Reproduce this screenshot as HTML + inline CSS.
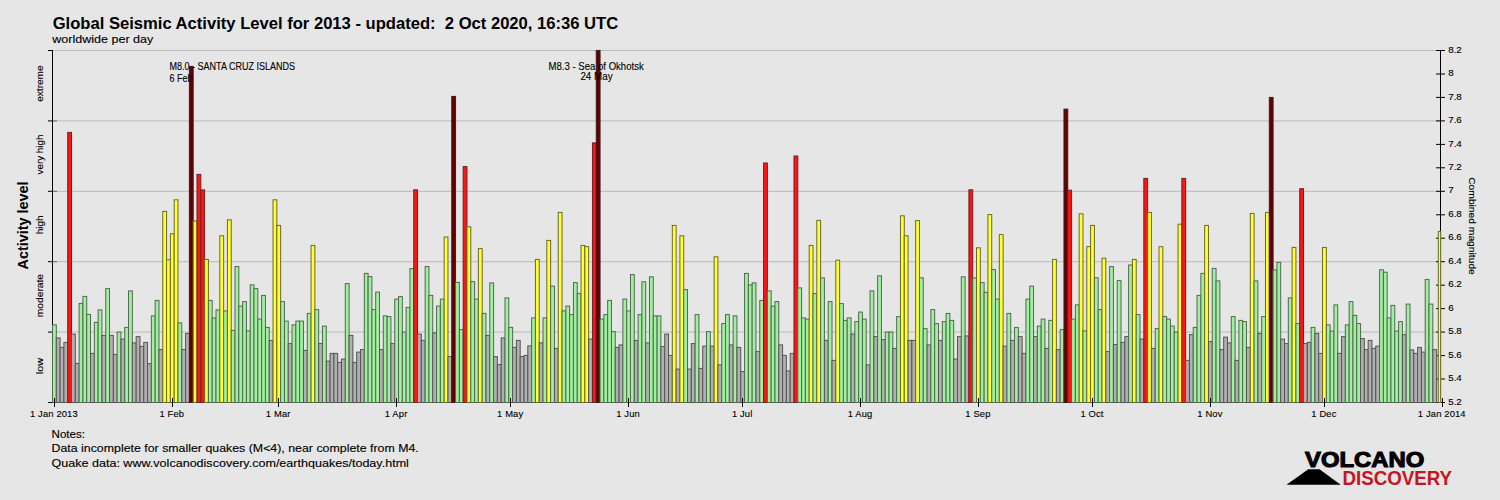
<!DOCTYPE html><html><head><meta charset="utf-8"><title>Global Seismic Activity Level 2013</title><style>
html,body{margin:0;padding:0;background:#e6e6e6;}body{width:1500px;height:500px;overflow:hidden;}svg{display:block;}
text{font-family:"Liberation Sans",Arial,sans-serif;fill:#000;}.t{stroke:#000;stroke-width:0.12px;}
</style></head><body>
<svg width="1500" height="500" viewBox="0 0 1500 500">
<rect x="0" y="0" width="1500" height="500" fill="#e6e6e6"/>
<line x1="53" y1="50.5" x2="1440" y2="50.5" stroke="#bababa" stroke-width="1"/>
<line x1="53" y1="120.9" x2="1440" y2="120.9" stroke="#bababa" stroke-width="1"/>
<line x1="53" y1="191.3" x2="1440" y2="191.3" stroke="#bababa" stroke-width="1"/>
<line x1="53" y1="261.7" x2="1440" y2="261.7" stroke="#bababa" stroke-width="1"/>
<line x1="53" y1="332.1" x2="1440" y2="332.1" stroke="#bababa" stroke-width="1"/>
<line x1="52.5" y1="50" x2="52.5" y2="403" stroke="#000" stroke-width="1"/>
<line x1="1440.5" y1="50" x2="1440.5" y2="403" stroke="#000" stroke-width="1"/>
<line x1="1436" y1="402.5" x2="1445" y2="402.5" stroke="#000" stroke-width="1"/>
<text class="t" x="1448.2" y="404.6" font-size="9.8">5.2</text>
<line x1="1436" y1="379.0" x2="1445" y2="379.0" stroke="#000" stroke-width="1"/>
<text class="t" x="1448.2" y="381.1" font-size="9.8">5.4</text>
<line x1="1436" y1="355.6" x2="1445" y2="355.6" stroke="#000" stroke-width="1"/>
<text class="t" x="1448.2" y="357.7" font-size="9.8">5.6</text>
<line x1="1436" y1="332.1" x2="1445" y2="332.1" stroke="#000" stroke-width="1"/>
<text class="t" x="1448.2" y="334.2" font-size="9.8">5.8</text>
<line x1="1436" y1="308.6" x2="1445" y2="308.6" stroke="#000" stroke-width="1"/>
<text class="t" x="1448.2" y="310.7" font-size="9.8">6</text>
<line x1="1436" y1="285.2" x2="1445" y2="285.2" stroke="#000" stroke-width="1"/>
<text class="t" x="1448.2" y="287.3" font-size="9.8">6.2</text>
<line x1="1436" y1="261.7" x2="1445" y2="261.7" stroke="#000" stroke-width="1"/>
<text class="t" x="1448.2" y="263.8" font-size="9.8">6.4</text>
<line x1="1436" y1="238.2" x2="1445" y2="238.2" stroke="#000" stroke-width="1"/>
<text class="t" x="1448.2" y="240.3" font-size="9.8">6.6</text>
<line x1="1436" y1="214.8" x2="1445" y2="214.8" stroke="#000" stroke-width="1"/>
<text class="t" x="1448.2" y="216.9" font-size="9.8">6.8</text>
<line x1="1436" y1="191.3" x2="1445" y2="191.3" stroke="#000" stroke-width="1"/>
<text class="t" x="1448.2" y="193.4" font-size="9.8">7</text>
<line x1="1436" y1="167.8" x2="1445" y2="167.8" stroke="#000" stroke-width="1"/>
<text class="t" x="1448.2" y="169.9" font-size="9.8">7.2</text>
<line x1="1436" y1="144.4" x2="1445" y2="144.4" stroke="#000" stroke-width="1"/>
<text class="t" x="1448.2" y="146.5" font-size="9.8">7.4</text>
<line x1="1436" y1="120.9" x2="1445" y2="120.9" stroke="#000" stroke-width="1"/>
<text class="t" x="1448.2" y="123.0" font-size="9.8">7.6</text>
<line x1="1436" y1="97.4" x2="1445" y2="97.4" stroke="#000" stroke-width="1"/>
<text class="t" x="1448.2" y="99.5" font-size="9.8">7.8</text>
<line x1="1436" y1="74.0" x2="1445" y2="74.0" stroke="#000" stroke-width="1"/>
<text class="t" x="1448.2" y="76.1" font-size="9.8">8</text>
<line x1="1436" y1="50.5" x2="1445" y2="50.5" stroke="#000" stroke-width="1"/>
<text class="t" x="1448.2" y="52.6" font-size="9.8">8.2</text>
<line x1="48" y1="50.5" x2="52.5" y2="50.5" stroke="#000" stroke-width="1"/>
<line x1="48" y1="120.9" x2="52.5" y2="120.9" stroke="#000" stroke-width="1"/>
<line x1="53" y1="120.9" x2="57" y2="120.9" stroke="#666" stroke-width="1"/>
<line x1="48" y1="191.3" x2="52.5" y2="191.3" stroke="#000" stroke-width="1"/>
<line x1="53" y1="191.3" x2="57" y2="191.3" stroke="#666" stroke-width="1"/>
<line x1="48" y1="261.7" x2="52.5" y2="261.7" stroke="#000" stroke-width="1"/>
<line x1="53" y1="261.7" x2="57" y2="261.7" stroke="#666" stroke-width="1"/>
<line x1="48" y1="332.1" x2="52.5" y2="332.1" stroke="#000" stroke-width="1"/>
<line x1="53" y1="332.1" x2="57" y2="332.1" stroke="#666" stroke-width="1"/>
<line x1="48" y1="402.5" x2="52.5" y2="402.5" stroke="#000" stroke-width="1"/>
<g stroke-width="1">
<rect x="52.50" y="324.9" width="3.80" height="77.6" fill="#a0f0a0" stroke="#526852"/>
<rect x="56.30" y="337.9" width="3.80" height="64.6" fill="#b0b0b0" stroke="#555555"/>
<rect x="60.11" y="347.4" width="3.80" height="55.1" fill="#b0b0b0" stroke="#555555"/>
<rect x="63.91" y="342.4" width="3.80" height="60.1" fill="#b0b0b0" stroke="#555555"/>
<rect x="67.71" y="132.4" width="3.80" height="270.1" fill="#ff1414" stroke="#6e2222"/>
<rect x="71.51" y="334.1" width="3.80" height="68.4" fill="#b0b0b0" stroke="#555555"/>
<rect x="75.31" y="363.4" width="3.80" height="39.1" fill="#b0b0b0" stroke="#555555"/>
<rect x="79.12" y="303.4" width="3.80" height="99.1" fill="#a0f0a0" stroke="#526852"/>
<rect x="82.92" y="296.4" width="3.80" height="106.1" fill="#a0f0a0" stroke="#526852"/>
<rect x="86.72" y="314.4" width="3.80" height="88.1" fill="#a0f0a0" stroke="#526852"/>
<rect x="90.53" y="353.4" width="3.80" height="49.1" fill="#b0b0b0" stroke="#555555"/>
<rect x="94.33" y="322.4" width="3.80" height="80.1" fill="#a0f0a0" stroke="#526852"/>
<rect x="98.13" y="309.9" width="3.80" height="92.6" fill="#a0f0a0" stroke="#526852"/>
<rect x="101.93" y="335.4" width="3.80" height="67.1" fill="#b0b0b0" stroke="#555555"/>
<rect x="105.73" y="288.6" width="3.80" height="113.9" fill="#a0f0a0" stroke="#526852"/>
<rect x="109.54" y="335.4" width="3.80" height="67.1" fill="#b0b0b0" stroke="#555555"/>
<rect x="113.34" y="354.4" width="3.80" height="48.1" fill="#b0b0b0" stroke="#555555"/>
<rect x="117.14" y="332.1" width="3.80" height="70.4" fill="#a0f0a0" stroke="#526852"/>
<rect x="120.95" y="339.1" width="3.80" height="63.4" fill="#b0b0b0" stroke="#555555"/>
<rect x="124.75" y="327.4" width="3.80" height="75.1" fill="#a0f0a0" stroke="#526852"/>
<rect x="128.55" y="290.9" width="3.80" height="111.6" fill="#a0f0a0" stroke="#526852"/>
<rect x="132.35" y="342.9" width="3.80" height="59.6" fill="#b0b0b0" stroke="#555555"/>
<rect x="136.16" y="336.6" width="3.80" height="65.9" fill="#b0b0b0" stroke="#555555"/>
<rect x="139.96" y="346.4" width="3.80" height="56.1" fill="#b0b0b0" stroke="#555555"/>
<rect x="143.76" y="342.4" width="3.80" height="60.1" fill="#b0b0b0" stroke="#555555"/>
<rect x="147.56" y="363.6" width="3.80" height="38.9" fill="#b0b0b0" stroke="#555555"/>
<rect x="151.37" y="315.9" width="3.80" height="86.6" fill="#a0f0a0" stroke="#526852"/>
<rect x="155.17" y="300.4" width="3.80" height="102.1" fill="#a0f0a0" stroke="#526852"/>
<rect x="158.97" y="349.6" width="3.80" height="52.9" fill="#b0b0b0" stroke="#555555"/>
<rect x="162.77" y="211.4" width="3.80" height="191.1" fill="#ffff33" stroke="#69692c"/>
<rect x="166.57" y="259.8" width="3.80" height="142.7" fill="#ffff33" stroke="#69692c"/>
<rect x="170.38" y="233.8" width="3.80" height="168.7" fill="#ffff33" stroke="#69692c"/>
<rect x="174.18" y="199.8" width="3.80" height="202.7" fill="#ffff33" stroke="#69692c"/>
<rect x="177.98" y="322.9" width="3.80" height="79.6" fill="#a0f0a0" stroke="#526852"/>
<rect x="181.78" y="349.6" width="3.80" height="52.9" fill="#b0b0b0" stroke="#555555"/>
<rect x="185.59" y="333.4" width="3.80" height="69.1" fill="#b0b0b0" stroke="#555555"/>
<rect x="189.39" y="66.4" width="3.80" height="336.1" fill="#640000" stroke="#3c1e1e"/>
<rect x="193.19" y="221.0" width="3.80" height="181.5" fill="#ffff33" stroke="#69692c"/>
<rect x="197.00" y="174.4" width="3.80" height="228.1" fill="#ff1414" stroke="#6e2222"/>
<rect x="200.80" y="189.9" width="3.80" height="212.6" fill="#ff1414" stroke="#6e2222"/>
<rect x="204.60" y="259.4" width="3.80" height="143.1" fill="#ffff33" stroke="#69692c"/>
<rect x="208.40" y="300.4" width="3.80" height="102.1" fill="#a0f0a0" stroke="#526852"/>
<rect x="212.21" y="317.9" width="3.80" height="84.6" fill="#a0f0a0" stroke="#526852"/>
<rect x="216.01" y="309.9" width="3.80" height="92.6" fill="#a0f0a0" stroke="#526852"/>
<rect x="219.81" y="235.8" width="3.80" height="166.7" fill="#ffff33" stroke="#69692c"/>
<rect x="223.61" y="310.9" width="3.80" height="91.6" fill="#a0f0a0" stroke="#526852"/>
<rect x="227.42" y="219.8" width="3.80" height="182.7" fill="#ffff33" stroke="#69692c"/>
<rect x="231.22" y="330.4" width="3.80" height="72.1" fill="#a0f0a0" stroke="#526852"/>
<rect x="235.02" y="266.6" width="3.80" height="135.9" fill="#a0f0a0" stroke="#526852"/>
<rect x="238.82" y="306.1" width="3.80" height="96.4" fill="#a0f0a0" stroke="#526852"/>
<rect x="242.62" y="301.6" width="3.80" height="100.9" fill="#a0f0a0" stroke="#526852"/>
<rect x="246.43" y="330.9" width="3.80" height="71.6" fill="#a0f0a0" stroke="#526852"/>
<rect x="250.23" y="284.9" width="3.80" height="117.6" fill="#a0f0a0" stroke="#526852"/>
<rect x="254.03" y="288.6" width="3.80" height="113.9" fill="#a0f0a0" stroke="#526852"/>
<rect x="257.84" y="319.1" width="3.80" height="83.4" fill="#a0f0a0" stroke="#526852"/>
<rect x="261.64" y="295.4" width="3.80" height="107.1" fill="#a0f0a0" stroke="#526852"/>
<rect x="265.44" y="327.4" width="3.80" height="75.1" fill="#a0f0a0" stroke="#526852"/>
<rect x="269.24" y="340.4" width="3.80" height="62.1" fill="#b0b0b0" stroke="#555555"/>
<rect x="273.05" y="199.8" width="3.80" height="202.7" fill="#ffff33" stroke="#69692c"/>
<rect x="276.85" y="225.4" width="3.80" height="177.1" fill="#ffff33" stroke="#69692c"/>
<rect x="280.65" y="301.6" width="3.80" height="100.9" fill="#a0f0a0" stroke="#526852"/>
<rect x="284.45" y="321.1" width="3.80" height="81.4" fill="#a0f0a0" stroke="#526852"/>
<rect x="288.25" y="343.6" width="3.80" height="58.9" fill="#b0b0b0" stroke="#555555"/>
<rect x="292.06" y="324.9" width="3.80" height="77.6" fill="#a0f0a0" stroke="#526852"/>
<rect x="295.86" y="321.1" width="3.80" height="81.4" fill="#a0f0a0" stroke="#526852"/>
<rect x="299.66" y="321.1" width="3.80" height="81.4" fill="#a0f0a0" stroke="#526852"/>
<rect x="303.47" y="350.4" width="3.80" height="52.1" fill="#b0b0b0" stroke="#555555"/>
<rect x="307.27" y="313.4" width="3.80" height="89.1" fill="#a0f0a0" stroke="#526852"/>
<rect x="311.07" y="245.4" width="3.80" height="157.1" fill="#ffff33" stroke="#69692c"/>
<rect x="314.87" y="309.6" width="3.80" height="92.9" fill="#a0f0a0" stroke="#526852"/>
<rect x="318.68" y="343.6" width="3.80" height="58.9" fill="#b0b0b0" stroke="#555555"/>
<rect x="322.48" y="326.1" width="3.80" height="76.4" fill="#a0f0a0" stroke="#526852"/>
<rect x="326.28" y="361.1" width="3.80" height="41.4" fill="#b0b0b0" stroke="#555555"/>
<rect x="330.08" y="353.4" width="3.80" height="49.1" fill="#b0b0b0" stroke="#555555"/>
<rect x="333.88" y="353.4" width="3.80" height="49.1" fill="#b0b0b0" stroke="#555555"/>
<rect x="337.69" y="362.4" width="3.80" height="40.1" fill="#b0b0b0" stroke="#555555"/>
<rect x="341.49" y="359.1" width="3.80" height="43.4" fill="#b0b0b0" stroke="#555555"/>
<rect x="345.29" y="283.6" width="3.80" height="118.9" fill="#a0f0a0" stroke="#526852"/>
<rect x="349.10" y="335.4" width="3.80" height="67.1" fill="#b0b0b0" stroke="#555555"/>
<rect x="352.90" y="362.4" width="3.80" height="40.1" fill="#b0b0b0" stroke="#555555"/>
<rect x="356.70" y="352.1" width="3.80" height="50.4" fill="#b0b0b0" stroke="#555555"/>
<rect x="360.50" y="349.6" width="3.80" height="52.9" fill="#b0b0b0" stroke="#555555"/>
<rect x="364.31" y="273.4" width="3.80" height="129.1" fill="#a0f0a0" stroke="#526852"/>
<rect x="368.11" y="276.6" width="3.80" height="125.9" fill="#a0f0a0" stroke="#526852"/>
<rect x="371.91" y="309.6" width="3.80" height="92.9" fill="#a0f0a0" stroke="#526852"/>
<rect x="375.71" y="292.1" width="3.80" height="110.4" fill="#a0f0a0" stroke="#526852"/>
<rect x="379.52" y="349.6" width="3.80" height="52.9" fill="#b0b0b0" stroke="#555555"/>
<rect x="383.32" y="315.9" width="3.80" height="86.6" fill="#a0f0a0" stroke="#526852"/>
<rect x="387.12" y="316.6" width="3.80" height="85.9" fill="#a0f0a0" stroke="#526852"/>
<rect x="390.92" y="343.6" width="3.80" height="58.9" fill="#b0b0b0" stroke="#555555"/>
<rect x="394.73" y="299.1" width="3.80" height="103.4" fill="#a0f0a0" stroke="#526852"/>
<rect x="398.53" y="296.6" width="3.80" height="105.9" fill="#a0f0a0" stroke="#526852"/>
<rect x="402.33" y="332.1" width="3.80" height="70.4" fill="#a0f0a0" stroke="#526852"/>
<rect x="406.13" y="307.4" width="3.80" height="95.1" fill="#a0f0a0" stroke="#526852"/>
<rect x="409.94" y="268.6" width="3.80" height="133.9" fill="#a0f0a0" stroke="#526852"/>
<rect x="413.74" y="189.8" width="3.80" height="212.7" fill="#ff1414" stroke="#6e2222"/>
<rect x="417.54" y="334.1" width="3.80" height="68.4" fill="#b0b0b0" stroke="#555555"/>
<rect x="421.34" y="340.4" width="3.80" height="62.1" fill="#b0b0b0" stroke="#555555"/>
<rect x="425.15" y="266.6" width="3.80" height="135.9" fill="#a0f0a0" stroke="#526852"/>
<rect x="428.95" y="295.4" width="3.80" height="107.1" fill="#a0f0a0" stroke="#526852"/>
<rect x="432.75" y="332.9" width="3.80" height="69.6" fill="#b0b0b0" stroke="#555555"/>
<rect x="436.55" y="306.1" width="3.80" height="96.4" fill="#a0f0a0" stroke="#526852"/>
<rect x="440.36" y="299.1" width="3.80" height="103.4" fill="#a0f0a0" stroke="#526852"/>
<rect x="444.16" y="237.0" width="3.80" height="165.5" fill="#ffff33" stroke="#69692c"/>
<rect x="447.96" y="356.6" width="3.80" height="45.9" fill="#b0b0b0" stroke="#555555"/>
<rect x="451.76" y="96.4" width="3.80" height="306.1" fill="#640000" stroke="#3c1e1e"/>
<rect x="455.56" y="282.4" width="3.80" height="120.1" fill="#a0f0a0" stroke="#526852"/>
<rect x="459.37" y="329.6" width="3.80" height="72.9" fill="#a0f0a0" stroke="#526852"/>
<rect x="463.17" y="166.6" width="3.80" height="235.9" fill="#ff1414" stroke="#6e2222"/>
<rect x="466.97" y="226.8" width="3.80" height="175.7" fill="#ffff33" stroke="#69692c"/>
<rect x="470.78" y="281.6" width="3.80" height="120.9" fill="#a0f0a0" stroke="#526852"/>
<rect x="474.58" y="299.1" width="3.80" height="103.4" fill="#a0f0a0" stroke="#526852"/>
<rect x="478.38" y="248.6" width="3.80" height="153.9" fill="#ffff33" stroke="#69692c"/>
<rect x="482.18" y="313.4" width="3.80" height="89.1" fill="#a0f0a0" stroke="#526852"/>
<rect x="485.99" y="335.4" width="3.80" height="67.1" fill="#b0b0b0" stroke="#555555"/>
<rect x="489.79" y="282.9" width="3.80" height="119.6" fill="#a0f0a0" stroke="#526852"/>
<rect x="493.59" y="356.6" width="3.80" height="45.9" fill="#b0b0b0" stroke="#555555"/>
<rect x="497.39" y="364.6" width="3.80" height="37.9" fill="#b0b0b0" stroke="#555555"/>
<rect x="501.20" y="337.9" width="3.80" height="64.6" fill="#b0b0b0" stroke="#555555"/>
<rect x="505.00" y="297.9" width="3.80" height="104.6" fill="#a0f0a0" stroke="#526852"/>
<rect x="508.80" y="327.4" width="3.80" height="75.1" fill="#a0f0a0" stroke="#526852"/>
<rect x="512.60" y="347.4" width="3.80" height="55.1" fill="#b0b0b0" stroke="#555555"/>
<rect x="516.40" y="340.4" width="3.80" height="62.1" fill="#b0b0b0" stroke="#555555"/>
<rect x="520.21" y="356.6" width="3.80" height="45.9" fill="#b0b0b0" stroke="#555555"/>
<rect x="524.01" y="355.4" width="3.80" height="47.1" fill="#b0b0b0" stroke="#555555"/>
<rect x="527.81" y="345.9" width="3.80" height="56.6" fill="#b0b0b0" stroke="#555555"/>
<rect x="531.62" y="317.9" width="3.80" height="84.6" fill="#a0f0a0" stroke="#526852"/>
<rect x="535.42" y="259.4" width="3.80" height="143.1" fill="#ffff33" stroke="#69692c"/>
<rect x="539.22" y="342.9" width="3.80" height="59.6" fill="#b0b0b0" stroke="#555555"/>
<rect x="543.02" y="317.9" width="3.80" height="84.6" fill="#a0f0a0" stroke="#526852"/>
<rect x="546.83" y="240.4" width="3.80" height="162.1" fill="#ffff33" stroke="#69692c"/>
<rect x="550.63" y="286.1" width="3.80" height="116.4" fill="#a0f0a0" stroke="#526852"/>
<rect x="554.43" y="348.4" width="3.80" height="54.1" fill="#b0b0b0" stroke="#555555"/>
<rect x="558.23" y="212.4" width="3.80" height="190.1" fill="#ffff33" stroke="#69692c"/>
<rect x="562.04" y="310.9" width="3.80" height="91.6" fill="#a0f0a0" stroke="#526852"/>
<rect x="565.84" y="306.1" width="3.80" height="96.4" fill="#a0f0a0" stroke="#526852"/>
<rect x="569.64" y="314.6" width="3.80" height="87.9" fill="#a0f0a0" stroke="#526852"/>
<rect x="573.44" y="282.6" width="3.80" height="119.9" fill="#a0f0a0" stroke="#526852"/>
<rect x="577.25" y="293.6" width="3.80" height="108.9" fill="#a0f0a0" stroke="#526852"/>
<rect x="581.05" y="245.4" width="3.80" height="157.1" fill="#ffff33" stroke="#69692c"/>
<rect x="584.85" y="246.6" width="3.80" height="155.9" fill="#ffff33" stroke="#69692c"/>
<rect x="588.65" y="339.1" width="3.80" height="63.4" fill="#b0b0b0" stroke="#555555"/>
<rect x="592.46" y="142.9" width="3.80" height="259.6" fill="#ff1414" stroke="#6e2222"/>
<rect x="596.26" y="50.4" width="3.80" height="352.1" fill="#640000" stroke="#3c1e1e"/>
<rect x="600.06" y="319.1" width="3.80" height="83.4" fill="#a0f0a0" stroke="#526852"/>
<rect x="603.86" y="314.6" width="3.80" height="87.9" fill="#a0f0a0" stroke="#526852"/>
<rect x="607.67" y="300.4" width="3.80" height="102.1" fill="#a0f0a0" stroke="#526852"/>
<rect x="611.47" y="331.6" width="3.80" height="70.9" fill="#a0f0a0" stroke="#526852"/>
<rect x="615.27" y="347.4" width="3.80" height="55.1" fill="#b0b0b0" stroke="#555555"/>
<rect x="619.07" y="344.9" width="3.80" height="57.6" fill="#b0b0b0" stroke="#555555"/>
<rect x="622.88" y="299.1" width="3.80" height="103.4" fill="#a0f0a0" stroke="#526852"/>
<rect x="626.68" y="310.9" width="3.80" height="91.6" fill="#a0f0a0" stroke="#526852"/>
<rect x="630.48" y="274.6" width="3.80" height="127.9" fill="#a0f0a0" stroke="#526852"/>
<rect x="634.28" y="340.4" width="3.80" height="62.1" fill="#b0b0b0" stroke="#555555"/>
<rect x="638.09" y="314.6" width="3.80" height="87.9" fill="#a0f0a0" stroke="#526852"/>
<rect x="641.89" y="281.8" width="3.80" height="120.7" fill="#a0f0a0" stroke="#526852"/>
<rect x="645.69" y="342.9" width="3.80" height="59.6" fill="#b0b0b0" stroke="#555555"/>
<rect x="649.49" y="276.8" width="3.80" height="125.7" fill="#a0f0a0" stroke="#526852"/>
<rect x="653.30" y="315.9" width="3.80" height="86.6" fill="#a0f0a0" stroke="#526852"/>
<rect x="657.10" y="315.9" width="3.80" height="86.6" fill="#a0f0a0" stroke="#526852"/>
<rect x="660.90" y="346.6" width="3.80" height="55.9" fill="#b0b0b0" stroke="#555555"/>
<rect x="664.70" y="334.1" width="3.80" height="68.4" fill="#b0b0b0" stroke="#555555"/>
<rect x="668.50" y="355.4" width="3.80" height="47.1" fill="#b0b0b0" stroke="#555555"/>
<rect x="672.31" y="225.4" width="3.80" height="177.1" fill="#ffff33" stroke="#69692c"/>
<rect x="676.11" y="369.1" width="3.80" height="33.4" fill="#b0b0b0" stroke="#555555"/>
<rect x="679.91" y="235.8" width="3.80" height="166.7" fill="#ffff33" stroke="#69692c"/>
<rect x="683.72" y="289.6" width="3.80" height="112.9" fill="#a0f0a0" stroke="#526852"/>
<rect x="687.52" y="369.1" width="3.80" height="33.4" fill="#b0b0b0" stroke="#555555"/>
<rect x="691.32" y="343.6" width="3.80" height="58.9" fill="#b0b0b0" stroke="#555555"/>
<rect x="695.12" y="314.6" width="3.80" height="87.9" fill="#a0f0a0" stroke="#526852"/>
<rect x="698.93" y="368.4" width="3.80" height="34.1" fill="#b0b0b0" stroke="#555555"/>
<rect x="702.73" y="346.1" width="3.80" height="56.4" fill="#b0b0b0" stroke="#555555"/>
<rect x="706.53" y="331.6" width="3.80" height="70.9" fill="#a0f0a0" stroke="#526852"/>
<rect x="710.33" y="346.1" width="3.80" height="56.4" fill="#b0b0b0" stroke="#555555"/>
<rect x="714.13" y="256.8" width="3.80" height="145.7" fill="#ffff33" stroke="#69692c"/>
<rect x="717.94" y="364.9" width="3.80" height="37.6" fill="#b0b0b0" stroke="#555555"/>
<rect x="721.74" y="323.6" width="3.80" height="78.9" fill="#a0f0a0" stroke="#526852"/>
<rect x="725.54" y="314.6" width="3.80" height="87.9" fill="#a0f0a0" stroke="#526852"/>
<rect x="729.35" y="344.9" width="3.80" height="57.6" fill="#b0b0b0" stroke="#555555"/>
<rect x="733.15" y="315.9" width="3.80" height="86.6" fill="#a0f0a0" stroke="#526852"/>
<rect x="736.95" y="347.4" width="3.80" height="55.1" fill="#b0b0b0" stroke="#555555"/>
<rect x="740.75" y="371.6" width="3.80" height="30.9" fill="#b0b0b0" stroke="#555555"/>
<rect x="744.56" y="273.4" width="3.80" height="129.1" fill="#a0f0a0" stroke="#526852"/>
<rect x="748.36" y="284.9" width="3.80" height="117.6" fill="#a0f0a0" stroke="#526852"/>
<rect x="752.16" y="282.9" width="3.80" height="119.6" fill="#a0f0a0" stroke="#526852"/>
<rect x="755.96" y="351.6" width="3.80" height="50.9" fill="#b0b0b0" stroke="#555555"/>
<rect x="759.76" y="300.4" width="3.80" height="102.1" fill="#a0f0a0" stroke="#526852"/>
<rect x="763.57" y="163.0" width="3.80" height="239.5" fill="#ff1414" stroke="#6e2222"/>
<rect x="767.37" y="290.9" width="3.80" height="111.6" fill="#a0f0a0" stroke="#526852"/>
<rect x="771.17" y="306.1" width="3.80" height="96.4" fill="#a0f0a0" stroke="#526852"/>
<rect x="774.98" y="301.6" width="3.80" height="100.9" fill="#a0f0a0" stroke="#526852"/>
<rect x="778.78" y="344.9" width="3.80" height="57.6" fill="#b0b0b0" stroke="#555555"/>
<rect x="782.58" y="355.4" width="3.80" height="47.1" fill="#b0b0b0" stroke="#555555"/>
<rect x="786.38" y="370.9" width="3.80" height="31.6" fill="#b0b0b0" stroke="#555555"/>
<rect x="790.19" y="353.4" width="3.80" height="49.1" fill="#b0b0b0" stroke="#555555"/>
<rect x="793.99" y="156.0" width="3.80" height="246.5" fill="#ff1414" stroke="#6e2222"/>
<rect x="797.79" y="287.9" width="3.80" height="114.6" fill="#a0f0a0" stroke="#526852"/>
<rect x="801.59" y="317.9" width="3.80" height="84.6" fill="#a0f0a0" stroke="#526852"/>
<rect x="805.40" y="319.1" width="3.80" height="83.4" fill="#a0f0a0" stroke="#526852"/>
<rect x="809.20" y="245.4" width="3.80" height="157.1" fill="#ffff33" stroke="#69692c"/>
<rect x="813.00" y="293.6" width="3.80" height="108.9" fill="#a0f0a0" stroke="#526852"/>
<rect x="816.80" y="220.4" width="3.80" height="182.1" fill="#ffff33" stroke="#69692c"/>
<rect x="820.61" y="277.9" width="3.80" height="124.6" fill="#a0f0a0" stroke="#526852"/>
<rect x="824.41" y="340.4" width="3.80" height="62.1" fill="#b0b0b0" stroke="#555555"/>
<rect x="828.21" y="301.6" width="3.80" height="100.9" fill="#a0f0a0" stroke="#526852"/>
<rect x="832.01" y="360.4" width="3.80" height="42.1" fill="#b0b0b0" stroke="#555555"/>
<rect x="835.82" y="260.2" width="3.80" height="142.3" fill="#ffff33" stroke="#69692c"/>
<rect x="839.62" y="303.6" width="3.80" height="98.9" fill="#a0f0a0" stroke="#526852"/>
<rect x="843.42" y="320.4" width="3.80" height="82.1" fill="#a0f0a0" stroke="#526852"/>
<rect x="847.22" y="317.9" width="3.80" height="84.6" fill="#a0f0a0" stroke="#526852"/>
<rect x="851.03" y="334.1" width="3.80" height="68.4" fill="#b0b0b0" stroke="#555555"/>
<rect x="854.83" y="321.6" width="3.80" height="80.9" fill="#a0f0a0" stroke="#526852"/>
<rect x="858.63" y="312.1" width="3.80" height="90.4" fill="#a0f0a0" stroke="#526852"/>
<rect x="862.43" y="319.1" width="3.80" height="83.4" fill="#a0f0a0" stroke="#526852"/>
<rect x="866.24" y="364.9" width="3.80" height="37.6" fill="#b0b0b0" stroke="#555555"/>
<rect x="870.04" y="290.9" width="3.80" height="111.6" fill="#a0f0a0" stroke="#526852"/>
<rect x="873.84" y="336.6" width="3.80" height="65.9" fill="#b0b0b0" stroke="#555555"/>
<rect x="877.64" y="275.8" width="3.80" height="126.7" fill="#a0f0a0" stroke="#526852"/>
<rect x="881.45" y="339.6" width="3.80" height="62.9" fill="#b0b0b0" stroke="#555555"/>
<rect x="885.25" y="332.1" width="3.80" height="70.4" fill="#a0f0a0" stroke="#526852"/>
<rect x="889.05" y="332.1" width="3.80" height="70.4" fill="#a0f0a0" stroke="#526852"/>
<rect x="892.85" y="348.4" width="3.80" height="54.1" fill="#b0b0b0" stroke="#555555"/>
<rect x="896.66" y="316.6" width="3.80" height="85.9" fill="#a0f0a0" stroke="#526852"/>
<rect x="900.46" y="215.8" width="3.80" height="186.7" fill="#ffff33" stroke="#69692c"/>
<rect x="904.26" y="235.8" width="3.80" height="166.7" fill="#ffff33" stroke="#69692c"/>
<rect x="908.06" y="340.4" width="3.80" height="62.1" fill="#b0b0b0" stroke="#555555"/>
<rect x="911.87" y="340.4" width="3.80" height="62.1" fill="#b0b0b0" stroke="#555555"/>
<rect x="915.67" y="220.6" width="3.80" height="181.9" fill="#ffff33" stroke="#69692c"/>
<rect x="919.47" y="277.8" width="3.80" height="124.7" fill="#a0f0a0" stroke="#526852"/>
<rect x="923.27" y="328.6" width="3.80" height="73.9" fill="#a0f0a0" stroke="#526852"/>
<rect x="927.08" y="344.9" width="3.80" height="57.6" fill="#b0b0b0" stroke="#555555"/>
<rect x="930.88" y="309.6" width="3.80" height="92.9" fill="#a0f0a0" stroke="#526852"/>
<rect x="934.68" y="323.6" width="3.80" height="78.9" fill="#a0f0a0" stroke="#526852"/>
<rect x="938.48" y="340.4" width="3.80" height="62.1" fill="#b0b0b0" stroke="#555555"/>
<rect x="942.29" y="321.6" width="3.80" height="80.9" fill="#a0f0a0" stroke="#526852"/>
<rect x="946.09" y="313.4" width="3.80" height="89.1" fill="#a0f0a0" stroke="#526852"/>
<rect x="949.89" y="320.4" width="3.80" height="82.1" fill="#a0f0a0" stroke="#526852"/>
<rect x="953.69" y="359.1" width="3.80" height="43.4" fill="#b0b0b0" stroke="#555555"/>
<rect x="957.50" y="336.6" width="3.80" height="65.9" fill="#b0b0b0" stroke="#555555"/>
<rect x="961.30" y="276.8" width="3.80" height="125.7" fill="#a0f0a0" stroke="#526852"/>
<rect x="965.10" y="335.9" width="3.80" height="66.6" fill="#b0b0b0" stroke="#555555"/>
<rect x="968.90" y="189.8" width="3.80" height="212.7" fill="#ff1414" stroke="#6e2222"/>
<rect x="972.71" y="278.0" width="3.80" height="124.5" fill="#a0f0a0" stroke="#526852"/>
<rect x="976.51" y="247.8" width="3.80" height="154.7" fill="#ffff33" stroke="#69692c"/>
<rect x="980.31" y="282.6" width="3.80" height="119.9" fill="#a0f0a0" stroke="#526852"/>
<rect x="984.11" y="292.4" width="3.80" height="110.1" fill="#a0f0a0" stroke="#526852"/>
<rect x="987.92" y="214.6" width="3.80" height="187.9" fill="#ffff33" stroke="#69692c"/>
<rect x="991.72" y="269.6" width="3.80" height="132.9" fill="#a0f0a0" stroke="#526852"/>
<rect x="995.52" y="299.1" width="3.80" height="103.4" fill="#a0f0a0" stroke="#526852"/>
<rect x="999.32" y="234.6" width="3.80" height="167.9" fill="#ffff33" stroke="#69692c"/>
<rect x="1003.12" y="346.1" width="3.80" height="56.4" fill="#b0b0b0" stroke="#555555"/>
<rect x="1006.93" y="313.4" width="3.80" height="89.1" fill="#a0f0a0" stroke="#526852"/>
<rect x="1010.73" y="340.4" width="3.80" height="62.1" fill="#b0b0b0" stroke="#555555"/>
<rect x="1014.53" y="327.4" width="3.80" height="75.1" fill="#a0f0a0" stroke="#526852"/>
<rect x="1018.34" y="336.6" width="3.80" height="65.9" fill="#b0b0b0" stroke="#555555"/>
<rect x="1022.14" y="353.4" width="3.80" height="49.1" fill="#b0b0b0" stroke="#555555"/>
<rect x="1025.94" y="299.1" width="3.80" height="103.4" fill="#a0f0a0" stroke="#526852"/>
<rect x="1029.74" y="286.1" width="3.80" height="116.4" fill="#a0f0a0" stroke="#526852"/>
<rect x="1033.55" y="336.6" width="3.80" height="65.9" fill="#b0b0b0" stroke="#555555"/>
<rect x="1037.35" y="326.1" width="3.80" height="76.4" fill="#a0f0a0" stroke="#526852"/>
<rect x="1041.15" y="319.1" width="3.80" height="83.4" fill="#a0f0a0" stroke="#526852"/>
<rect x="1044.95" y="348.4" width="3.80" height="54.1" fill="#b0b0b0" stroke="#555555"/>
<rect x="1048.76" y="320.4" width="3.80" height="82.1" fill="#a0f0a0" stroke="#526852"/>
<rect x="1052.56" y="259.4" width="3.80" height="143.1" fill="#ffff33" stroke="#69692c"/>
<rect x="1056.36" y="349.6" width="3.80" height="52.9" fill="#b0b0b0" stroke="#555555"/>
<rect x="1060.16" y="329.6" width="3.80" height="72.9" fill="#a0f0a0" stroke="#526852"/>
<rect x="1063.97" y="109.1" width="3.80" height="293.4" fill="#640000" stroke="#3c1e1e"/>
<rect x="1067.77" y="190.2" width="3.80" height="212.3" fill="#ff1414" stroke="#6e2222"/>
<rect x="1071.57" y="319.1" width="3.80" height="83.4" fill="#a0f0a0" stroke="#526852"/>
<rect x="1075.37" y="304.9" width="3.80" height="97.6" fill="#a0f0a0" stroke="#526852"/>
<rect x="1079.17" y="213.8" width="3.80" height="188.7" fill="#ffff33" stroke="#69692c"/>
<rect x="1082.98" y="330.9" width="3.80" height="71.6" fill="#a0f0a0" stroke="#526852"/>
<rect x="1086.78" y="246.6" width="3.80" height="155.9" fill="#ffff33" stroke="#69692c"/>
<rect x="1090.58" y="225.4" width="3.80" height="177.1" fill="#ffff33" stroke="#69692c"/>
<rect x="1094.38" y="277.8" width="3.80" height="124.7" fill="#a0f0a0" stroke="#526852"/>
<rect x="1098.19" y="309.6" width="3.80" height="92.9" fill="#a0f0a0" stroke="#526852"/>
<rect x="1101.99" y="258.2" width="3.80" height="144.3" fill="#ffff33" stroke="#69692c"/>
<rect x="1105.79" y="351.6" width="3.80" height="50.9" fill="#b0b0b0" stroke="#555555"/>
<rect x="1109.60" y="266.6" width="3.80" height="135.9" fill="#a0f0a0" stroke="#526852"/>
<rect x="1113.40" y="344.6" width="3.80" height="57.9" fill="#b0b0b0" stroke="#555555"/>
<rect x="1117.20" y="280.6" width="3.80" height="121.9" fill="#a0f0a0" stroke="#526852"/>
<rect x="1121.00" y="342.4" width="3.80" height="60.1" fill="#b0b0b0" stroke="#555555"/>
<rect x="1124.81" y="336.6" width="3.80" height="65.9" fill="#b0b0b0" stroke="#555555"/>
<rect x="1128.61" y="265.0" width="3.80" height="137.5" fill="#a0f0a0" stroke="#526852"/>
<rect x="1132.41" y="259.4" width="3.80" height="143.1" fill="#ffff33" stroke="#69692c"/>
<rect x="1136.21" y="314.6" width="3.80" height="87.9" fill="#a0f0a0" stroke="#526852"/>
<rect x="1140.02" y="339.1" width="3.80" height="63.4" fill="#b0b0b0" stroke="#555555"/>
<rect x="1143.82" y="178.4" width="3.80" height="224.1" fill="#ff1414" stroke="#6e2222"/>
<rect x="1147.62" y="212.4" width="3.80" height="190.1" fill="#ffff33" stroke="#69692c"/>
<rect x="1151.42" y="348.4" width="3.80" height="54.1" fill="#b0b0b0" stroke="#555555"/>
<rect x="1155.23" y="328.6" width="3.80" height="73.9" fill="#a0f0a0" stroke="#526852"/>
<rect x="1159.03" y="246.7" width="3.80" height="155.8" fill="#ffff33" stroke="#69692c"/>
<rect x="1162.83" y="316.6" width="3.80" height="85.9" fill="#a0f0a0" stroke="#526852"/>
<rect x="1166.63" y="319.1" width="3.80" height="83.4" fill="#a0f0a0" stroke="#526852"/>
<rect x="1170.44" y="326.1" width="3.80" height="76.4" fill="#a0f0a0" stroke="#526852"/>
<rect x="1174.24" y="332.1" width="3.80" height="70.4" fill="#a0f0a0" stroke="#526852"/>
<rect x="1178.04" y="224.2" width="3.80" height="178.3" fill="#ffff33" stroke="#69692c"/>
<rect x="1181.84" y="178.4" width="3.80" height="224.1" fill="#ff1414" stroke="#6e2222"/>
<rect x="1185.64" y="360.4" width="3.80" height="42.1" fill="#b0b0b0" stroke="#555555"/>
<rect x="1189.45" y="334.6" width="3.80" height="67.9" fill="#b0b0b0" stroke="#555555"/>
<rect x="1193.25" y="327.4" width="3.80" height="75.1" fill="#a0f0a0" stroke="#526852"/>
<rect x="1197.05" y="295.4" width="3.80" height="107.1" fill="#a0f0a0" stroke="#526852"/>
<rect x="1200.86" y="273.4" width="3.80" height="129.1" fill="#a0f0a0" stroke="#526852"/>
<rect x="1204.66" y="225.4" width="3.80" height="177.1" fill="#ffff33" stroke="#69692c"/>
<rect x="1208.46" y="341.6" width="3.80" height="60.9" fill="#b0b0b0" stroke="#555555"/>
<rect x="1212.26" y="268.4" width="3.80" height="134.1" fill="#a0f0a0" stroke="#526852"/>
<rect x="1216.07" y="280.9" width="3.80" height="121.6" fill="#a0f0a0" stroke="#526852"/>
<rect x="1219.87" y="349.6" width="3.80" height="52.9" fill="#b0b0b0" stroke="#555555"/>
<rect x="1223.67" y="337.1" width="3.80" height="65.4" fill="#b0b0b0" stroke="#555555"/>
<rect x="1227.47" y="342.9" width="3.80" height="59.6" fill="#b0b0b0" stroke="#555555"/>
<rect x="1231.28" y="316.6" width="3.80" height="85.9" fill="#a0f0a0" stroke="#526852"/>
<rect x="1235.08" y="360.4" width="3.80" height="42.1" fill="#b0b0b0" stroke="#555555"/>
<rect x="1238.88" y="320.4" width="3.80" height="82.1" fill="#a0f0a0" stroke="#526852"/>
<rect x="1242.68" y="321.6" width="3.80" height="80.9" fill="#a0f0a0" stroke="#526852"/>
<rect x="1246.49" y="347.4" width="3.80" height="55.1" fill="#b0b0b0" stroke="#555555"/>
<rect x="1250.29" y="213.4" width="3.80" height="189.1" fill="#ffff33" stroke="#69692c"/>
<rect x="1254.09" y="280.9" width="3.80" height="121.6" fill="#a0f0a0" stroke="#526852"/>
<rect x="1257.89" y="333.4" width="3.80" height="69.1" fill="#b0b0b0" stroke="#555555"/>
<rect x="1261.70" y="316.6" width="3.80" height="85.9" fill="#a0f0a0" stroke="#526852"/>
<rect x="1265.50" y="212.4" width="3.80" height="190.1" fill="#ffff33" stroke="#69692c"/>
<rect x="1269.30" y="97.4" width="3.80" height="305.1" fill="#640000" stroke="#3c1e1e"/>
<rect x="1273.10" y="269.9" width="3.80" height="132.6" fill="#a0f0a0" stroke="#526852"/>
<rect x="1276.90" y="262.4" width="3.80" height="140.1" fill="#a0f0a0" stroke="#526852"/>
<rect x="1280.71" y="339.1" width="3.80" height="63.4" fill="#b0b0b0" stroke="#555555"/>
<rect x="1284.51" y="343.6" width="3.80" height="58.9" fill="#b0b0b0" stroke="#555555"/>
<rect x="1288.31" y="297.9" width="3.80" height="104.6" fill="#a0f0a0" stroke="#526852"/>
<rect x="1292.12" y="247.4" width="3.80" height="155.1" fill="#ffff33" stroke="#69692c"/>
<rect x="1295.92" y="323.6" width="3.80" height="78.9" fill="#a0f0a0" stroke="#526852"/>
<rect x="1299.72" y="188.7" width="3.80" height="213.8" fill="#ff1414" stroke="#6e2222"/>
<rect x="1303.52" y="343.6" width="3.80" height="58.9" fill="#b0b0b0" stroke="#555555"/>
<rect x="1307.33" y="342.4" width="3.80" height="60.1" fill="#b0b0b0" stroke="#555555"/>
<rect x="1311.13" y="327.4" width="3.80" height="75.1" fill="#a0f0a0" stroke="#526852"/>
<rect x="1314.93" y="333.4" width="3.80" height="69.1" fill="#b0b0b0" stroke="#555555"/>
<rect x="1318.73" y="353.4" width="3.80" height="49.1" fill="#b0b0b0" stroke="#555555"/>
<rect x="1322.54" y="247.4" width="3.80" height="155.1" fill="#ffff33" stroke="#69692c"/>
<rect x="1326.34" y="324.9" width="3.80" height="77.6" fill="#a0f0a0" stroke="#526852"/>
<rect x="1330.14" y="331.1" width="3.80" height="71.4" fill="#a0f0a0" stroke="#526852"/>
<rect x="1333.94" y="304.9" width="3.80" height="97.6" fill="#a0f0a0" stroke="#526852"/>
<rect x="1337.75" y="353.4" width="3.80" height="49.1" fill="#b0b0b0" stroke="#555555"/>
<rect x="1341.55" y="336.6" width="3.80" height="65.9" fill="#b0b0b0" stroke="#555555"/>
<rect x="1345.35" y="324.9" width="3.80" height="77.6" fill="#a0f0a0" stroke="#526852"/>
<rect x="1349.15" y="301.6" width="3.80" height="100.9" fill="#a0f0a0" stroke="#526852"/>
<rect x="1352.96" y="315.4" width="3.80" height="87.1" fill="#a0f0a0" stroke="#526852"/>
<rect x="1356.76" y="323.6" width="3.80" height="78.9" fill="#a0f0a0" stroke="#526852"/>
<rect x="1360.56" y="338.6" width="3.80" height="63.9" fill="#b0b0b0" stroke="#555555"/>
<rect x="1364.36" y="349.6" width="3.80" height="52.9" fill="#b0b0b0" stroke="#555555"/>
<rect x="1368.16" y="340.4" width="3.80" height="62.1" fill="#b0b0b0" stroke="#555555"/>
<rect x="1371.97" y="348.4" width="3.80" height="54.1" fill="#b0b0b0" stroke="#555555"/>
<rect x="1375.77" y="346.1" width="3.80" height="56.4" fill="#b0b0b0" stroke="#555555"/>
<rect x="1379.57" y="269.8" width="3.80" height="132.7" fill="#a0f0a0" stroke="#526852"/>
<rect x="1383.38" y="272.2" width="3.80" height="130.3" fill="#a0f0a0" stroke="#526852"/>
<rect x="1387.18" y="317.9" width="3.80" height="84.6" fill="#a0f0a0" stroke="#526852"/>
<rect x="1390.98" y="305.4" width="3.80" height="97.1" fill="#a0f0a0" stroke="#526852"/>
<rect x="1394.78" y="331.1" width="3.80" height="71.4" fill="#a0f0a0" stroke="#526852"/>
<rect x="1398.59" y="321.6" width="3.80" height="80.9" fill="#a0f0a0" stroke="#526852"/>
<rect x="1402.39" y="334.6" width="3.80" height="67.9" fill="#b0b0b0" stroke="#555555"/>
<rect x="1406.19" y="304.1" width="3.80" height="98.4" fill="#a0f0a0" stroke="#526852"/>
<rect x="1409.99" y="349.9" width="3.80" height="52.6" fill="#b0b0b0" stroke="#555555"/>
<rect x="1413.80" y="353.4" width="3.80" height="49.1" fill="#b0b0b0" stroke="#555555"/>
<rect x="1417.60" y="347.4" width="3.80" height="55.1" fill="#b0b0b0" stroke="#555555"/>
<rect x="1421.40" y="352.1" width="3.80" height="50.4" fill="#b0b0b0" stroke="#555555"/>
<rect x="1425.20" y="279.4" width="3.80" height="123.1" fill="#a0f0a0" stroke="#526852"/>
<rect x="1429.01" y="304.1" width="3.80" height="98.4" fill="#a0f0a0" stroke="#526852"/>
<rect x="1432.81" y="349.6" width="3.80" height="52.9" fill="#b0b0b0" stroke="#555555"/>
<rect x="1438.30" y="231.4" width="2.40" height="171.1" fill="#ffff33" stroke="#69692c"/>
</g>
<text class="t" x="169.5" y="69.9" font-size="10.1" textLength="125.5" lengthAdjust="spacingAndGlyphs">M8.0 - SANTA CRUZ ISLANDS</text>
<text class="t" x="169.5" y="81.6" font-size="10.1" textLength="23" lengthAdjust="spacingAndGlyphs">6 Feb</text>
<text class="t" x="548.6" y="69.7" font-size="10.1" textLength="95.1" lengthAdjust="spacingAndGlyphs">M8.3 - Sea of Okhotsk</text>
<text class="t" x="580.4" y="79.7" font-size="10.1" textLength="32.2" lengthAdjust="spacingAndGlyphs">24 May</text>
<line x1="54.5" y1="398" x2="54.5" y2="407" stroke="#000" stroke-width="1"/>
<text class="t" x="53.9" y="417" font-size="9.4" letter-spacing="0.15" text-anchor="middle">1 Jan 2013</text>
<line x1="172.5" y1="398" x2="172.5" y2="407" stroke="#000" stroke-width="1"/>
<text class="t" x="171.8" y="417" font-size="9.4" letter-spacing="0.15" text-anchor="middle">1 Feb</text>
<line x1="278.5" y1="398" x2="278.5" y2="407" stroke="#000" stroke-width="1"/>
<text class="t" x="278.2" y="417" font-size="9.4" letter-spacing="0.15" text-anchor="middle">1 Mar</text>
<line x1="396.5" y1="398" x2="396.5" y2="407" stroke="#000" stroke-width="1"/>
<text class="t" x="396.1" y="417" font-size="9.4" letter-spacing="0.15" text-anchor="middle">1 Apr</text>
<line x1="510.5" y1="398" x2="510.5" y2="407" stroke="#000" stroke-width="1"/>
<text class="t" x="510.2" y="417" font-size="9.4" letter-spacing="0.15" text-anchor="middle">1 May</text>
<line x1="628.5" y1="398" x2="628.5" y2="407" stroke="#000" stroke-width="1"/>
<text class="t" x="628.1" y="417" font-size="9.4" letter-spacing="0.15" text-anchor="middle">1 Jun</text>
<line x1="742.5" y1="398" x2="742.5" y2="407" stroke="#000" stroke-width="1"/>
<text class="t" x="742.2" y="417" font-size="9.4" letter-spacing="0.15" text-anchor="middle">1 Jul</text>
<line x1="860.5" y1="398" x2="860.5" y2="407" stroke="#000" stroke-width="1"/>
<text class="t" x="860.0" y="417" font-size="9.4" letter-spacing="0.15" text-anchor="middle">1 Aug</text>
<line x1="978.5" y1="398" x2="978.5" y2="407" stroke="#000" stroke-width="1"/>
<text class="t" x="977.9" y="417" font-size="9.4" letter-spacing="0.15" text-anchor="middle">1 Sep</text>
<line x1="1092.5" y1="398" x2="1092.5" y2="407" stroke="#000" stroke-width="1"/>
<text class="t" x="1092.0" y="417" font-size="9.4" letter-spacing="0.15" text-anchor="middle">1 Oct</text>
<line x1="1210.5" y1="398" x2="1210.5" y2="407" stroke="#000" stroke-width="1"/>
<text class="t" x="1209.9" y="417" font-size="9.4" letter-spacing="0.15" text-anchor="middle">1 Nov</text>
<line x1="1324.5" y1="398" x2="1324.5" y2="407" stroke="#000" stroke-width="1"/>
<text class="t" x="1323.9" y="417" font-size="9.4" letter-spacing="0.15" text-anchor="middle">1 Dec</text>
<line x1="1442.5" y1="398" x2="1442.5" y2="407" stroke="#000" stroke-width="1"/>
<text class="t" x="1441.8" y="417" font-size="9.4" letter-spacing="0.15" text-anchor="middle">1 Jan 2014</text>
<text class="t" transform="translate(43.2,83.6) rotate(-90)" x="-18.2" font-size="9.6" textLength="36.4" lengthAdjust="spacingAndGlyphs">extreme</text>
<text class="t" transform="translate(43.2,154.5) rotate(-90)" x="-19.9" font-size="9.6" textLength="39.8" lengthAdjust="spacingAndGlyphs">very high</text>
<text class="t" transform="translate(43.2,224.8) rotate(-90)" x="-9.4" font-size="9.6" textLength="18.8" lengthAdjust="spacingAndGlyphs">high</text>
<text class="t" transform="translate(43.2,295.6) rotate(-90)" x="-21.6" font-size="9.6" textLength="43.2" lengthAdjust="spacingAndGlyphs">moderate</text>
<text class="t" transform="translate(43.2,366.1) rotate(-90)" x="-8.1" font-size="9.6" textLength="16.2" lengthAdjust="spacingAndGlyphs">low</text>
<text transform="translate(28,225.5) rotate(-90)" x="-43.9" font-size="14" font-weight="bold" textLength="87.8" lengthAdjust="spacingAndGlyphs">Activity level</text>
<text class="t" transform="translate(1469.2,226) rotate(90)" x="-48.8" font-size="9.6" textLength="97.6" lengthAdjust="spacingAndGlyphs">Combined magnitude</text>
<text x="52.7" y="29" font-size="16" font-weight="bold" textLength="565.5" lengthAdjust="spacingAndGlyphs" style="white-space:pre">Global Seismic Activity Level for 2013 - updated:  2 Oct 2020, 16:36 UTC</text>
<text class="t" x="52.3" y="42.7" font-size="10.6" textLength="101" lengthAdjust="spacingAndGlyphs">worldwide per day</text>
<text class="t" x="51.5" y="437.7" font-size="10.5" textLength="33.6" lengthAdjust="spacingAndGlyphs">Notes:</text>
<text class="t" x="51.5" y="451.7" font-size="10.5" textLength="367.3" lengthAdjust="spacingAndGlyphs">Data incomplete for smaller quakes (M&lt;4), near complete from M4.</text>
<text class="t" x="51.5" y="467.3" font-size="10.5" textLength="357.4" lengthAdjust="spacingAndGlyphs">Quake data: www.volcanodiscovery.com/earthquakes/today.html</text>
<polygon points="1286.5,484.8 1308.3,469.2 1319.5,469.2 1340.7,484.8" fill="#000"/>
<text x="1305" y="467" font-size="22.2" font-weight="bold" textLength="119.2" lengthAdjust="spacingAndGlyphs" style="fill:#000;stroke:#000;stroke-width:1.1">VOLCANO</text>
<text x="1342.5" y="484.7" font-size="20.2" font-weight="bold" textLength="109.6" lengthAdjust="spacingAndGlyphs" style="fill:#c4161f">DISCOVERY</text>
</svg></body></html>
